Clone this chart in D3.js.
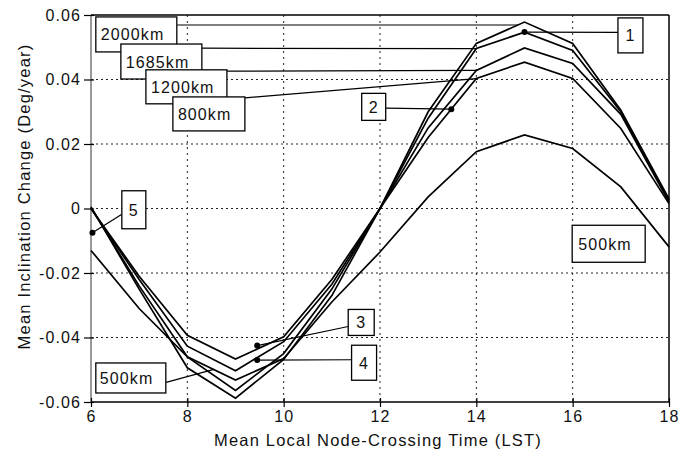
<!DOCTYPE html>
<html>
<head>
<meta charset="utf-8">
<script src="https://cdn.jsdelivr.net/npm/d3@7/dist/d3.min.js"></script>
<style>
  html, body { margin: 0; padding: 0; background: #fff; }
  svg { display: block; }
  text { font-family: "Liberation Sans", Arial, Helvetica, sans-serif; fill: #111; }
</style>
</head>
<body>
<svg id="chart" width="684" height="456"></svg>
<script>
// Local node-crossing time (hours)
const hours = [6, 7, 8, 9, 10, 11, 12, 13, 14, 15, 16, 17, 18];

// Mean inclination change (deg/year) by altitude
const alt2000 = [0.0005, -0.025, -0.0494, -0.0588, -0.0468, -0.027, 0.000, 0.030, 0.0512, 0.0578, 0.0512, 0.0305, 0.003];
const alt1685 = [0.0003, -0.024, -0.046, -0.0564, -0.045, -0.025, 0.000, 0.028, 0.0496, 0.0547, 0.049, 0.030, 0.0025];
const alt1200 = [0.0000, -0.022, -0.0427, -0.0503, -0.0413, -0.0235, 0.000, 0.025, 0.0428, 0.0498, 0.045, 0.0292, 0.002];
const alt800  = [0.0000, -0.021, -0.0393, -0.0467, -0.0398, -0.022, 0.000, 0.022, 0.0403, 0.0454, 0.0403, 0.0248, 0.0015];
const alt500  = [-0.013, -0.031, -0.046, -0.0532, -0.0465, -0.029, -0.0135, 0.0036, 0.0176, 0.0228, 0.0186, 0.0067, -0.0119];

// Numbered cases (time, inclination change)
const caseIds = ["1", "2", "3", "4", "5"];
const caseTimes = [15, 13.48, 9.45, 9.45, 6.03];
const caseValues = [0.0547, 0.0308, -0.0425, -0.047, -0.0075];

// Axis ticks
const xTicks = [6, 8, 10, 12, 14, 16, 18];
const yTicks = [-0.06, -0.04, -0.02, 0, 0.02, 0.04, 0.06];
const yTickLabels = ["-0.06", "-0.04", "-0.02", "0", "0.02", "0.04", "0.06"];

const svg = d3.select("#chart");
const W = 684, H = 456;
const margin = { left: 91, right: 15, top: 15, bottom: 54 };

const x = d3.scaleLinear().domain([6, 18]).range([margin.left, W - margin.right]);
const y = d3.scaleLinear().domain([-0.06, 0.06]).range([H - margin.bottom, margin.top]);

const FONT = 16;
const LS = "1.1px";

// Dotted grid
const grid = svg.append("g");
grid.selectAll("line.h").data([-0.04, -0.02, 0, 0.02, 0.04]).join("line")
  .attr("x1", x(6)).attr("x2", x(18))
  .attr("y1", d => y(d)).attr("y2", d => y(d))
  .attr("stroke", "#222").attr("stroke-width", 1).attr("stroke-dasharray", "2,3");
grid.selectAll("line.v").data([8, 10, 12, 14, 16]).join("line")
  .attr("y1", y(0.06)).attr("y2", y(-0.06))
  .attr("x1", d => x(d)).attr("x2", d => x(d))
  .attr("stroke", "#222").attr("stroke-width", 1).attr("stroke-dasharray", "2,4");

// Frame
svg.append("line").attr("x1", x(6)).attr("x2", x(18)).attr("y1", y(0.06)).attr("y2", y(0.06))
  .attr("stroke", "#000").attr("stroke-width", 1.5);
svg.append("line").attr("x1", x(18)).attr("x2", x(18)).attr("y1", y(0.06)).attr("y2", y(-0.06))
  .attr("stroke", "#000").attr("stroke-width", 1.5);
svg.append("line").attr("x1", x(6)).attr("x2", x(18)).attr("y1", y(-0.06)).attr("y2", y(-0.06))
  .attr("stroke", "#000").attr("stroke-width", 1.5);
svg.append("line").attr("x1", x(6)).attr("x2", x(6)).attr("y1", y(0.06)).attr("y2", y(-0.06))
  .attr("stroke", "#777").attr("stroke-width", 1.5);

// Axes (ticks cross the axis line)
const yAxis = d3.axisLeft(y).tickValues(yTicks).tickSize(7).tickPadding(3)
  .tickFormat((d, i) => yTickLabels[i]);
const gy = svg.append("g").attr("transform", `translate(${x(6)},0)`).call(yAxis);
gy.select(".domain").remove();
gy.selectAll(".tick line").attr("x1", 3).attr("stroke", "#000").attr("stroke-width", 1.2);
gy.selectAll(".tick text").attr("font-size", FONT).attr("letter-spacing", LS)
  .attr("font-family", "Liberation Sans, Arial, sans-serif").attr("fill", "#111");

const xAxis = d3.axisBottom(x).tickValues(xTicks).tickSize(5).tickPadding(4).tickFormat(d3.format("d"));
const gx = svg.append("g").attr("transform", `translate(0,${y(-0.06)})`).call(xAxis);
gx.select(".domain").remove();
gx.selectAll(".tick line").attr("y1", -4).attr("stroke", "#000").attr("stroke-width", 1.2);
gx.selectAll(".tick text").attr("font-size", FONT).attr("letter-spacing", LS)
  .attr("font-family", "Liberation Sans, Arial, sans-serif").attr("fill", "#111");

// Axis titles
svg.append("text").attr("x", (x(6) + x(18)) / 2 - 2).attr("y", 446)
  .attr("text-anchor", "middle").attr("font-size", 16.5).attr("letter-spacing", "1.2px")
  .text("Mean Local Node-Crossing Time (LST)");
svg.append("text").attr("transform", `translate(30,${y(0) - 12}) rotate(-90)`)
  .attr("text-anchor", "middle").attr("font-size", 16.5).attr("letter-spacing", "1.2px")
  .text("Mean Inclination Change (Deg/year)");

// Curves
const series = [alt500, alt800, alt1200, alt1685, alt2000];
const line = d3.line().x((d, i) => x(hours[i])).y(d => y(d));
svg.append("g").selectAll("path").data(series).join("path")
  .attr("d", d => line(d))
  .attr("fill", "none").attr("stroke", "#000").attr("stroke-width", 1.7)
  .attr("stroke-linejoin", "miter");

// Annotation helpers (box corner in data units, size in px)
function box(g, tx, ty, w, h, label, textDx) {
  const bx = x(tx), by = y(ty);
  g.append("rect").attr("x", bx).attr("y", by).attr("width", w).attr("height", h)
    .attr("fill", "#fff").attr("stroke", "#000").attr("stroke-width", 1.3);
  g.append("text").attr("x", bx + (textDx == null ? w / 2 : textDx)).attr("y", by + h / 2 + 6)
    .attr("text-anchor", textDx == null ? "middle" : "start")
    .attr("font-size", FONT).attr("letter-spacing", LS).text(label);
}
function leader(g, x1, y1, x2, y2) {
  g.append("line").attr("x1", x(x1)).attr("y1", y(y1)).attr("x2", x(x2)).attr("y2", y(y2))
    .attr("stroke", "#000").attr("stroke-width", 1.2);
}

const ann = svg.append("g");

// Altitude labels with leaders to their curves
leader(ann, 7.79, 0.0569, 14.86, 0.0569);
box(ann, 6.10, 0.0594, 81, 35, "2000km", 5);
leader(ann, 8.30, 0.0497, 14.0, 0.0496);
box(ann, 6.62, 0.0510, 81, 35, "1685km", 5);
leader(ann, 8.82, 0.0426, 14.0, 0.0428);
box(ann, 7.14, 0.0430, 81, 34, "1200km", 5);
leader(ann, 9.20, 0.0343, 14.0, 0.0403);
box(ann, 7.70, 0.0346, 72, 34, "800km", 5);

leader(ann, 7.56, -0.0539, 8.55, -0.0499);
box(ann, 6.10, -0.0479, 70, 30, "500km", 4);
box(ann, 15.99, -0.0052, 73, 37, "500km", 6);

// Numbered case points
const caseLeaderFrom = [
  [16.94, 0.0546], [12.12, 0.0311], [11.34, -0.0366], [11.41, -0.0469], [6.64, -0.0018]
];
caseIds.forEach((id, i) => leader(ann, caseLeaderFrom[i][0], caseLeaderFrom[i][1], caseTimes[i], caseValues[i]));
ann.selectAll("circle").data(caseIds).join("circle")
  .attr("cx", (d, i) => x(caseTimes[i])).attr("cy", (d, i) => y(caseValues[i]))
  .attr("r", 3).attr("fill", "#000");

const caseBoxes = [
  [16.94, 0.0591, 25, 35], [11.62, 0.0357, 24, 27], [11.34, -0.0313, 26, 26],
  [11.41, -0.0424, 25, 35], [6.64, 0.0055, 24, 38]
];
caseIds.forEach((id, i) => box(ann, caseBoxes[i][0], caseBoxes[i][1], caseBoxes[i][2], caseBoxes[i][3], id));
</script>
</body>
</html>
